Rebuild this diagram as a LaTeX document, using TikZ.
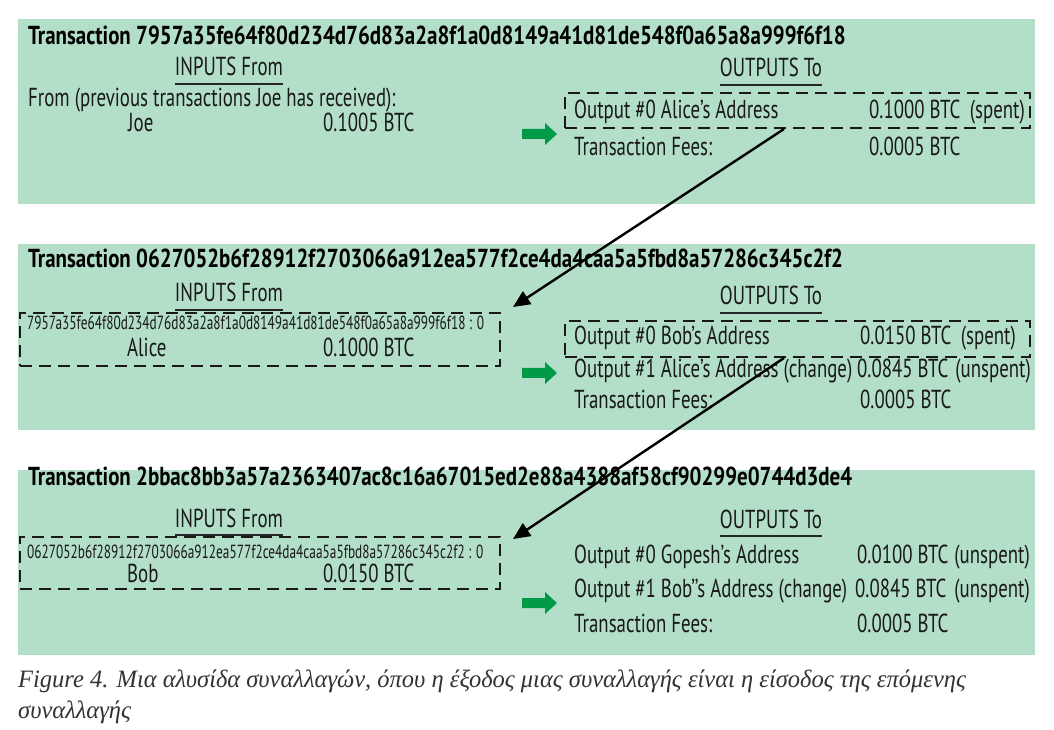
\documentclass[tikz,border=0pt]{standalone}
\usepackage{fontspec}
\setmainfont[FakeStretch=0.725]{PT Sans}
\newfontfamily\titlefont[FakeStretch=0.805]{PT Sans}
\newfontfamily\hashfont[FakeStretch=0.70]{PT Sans}
\newfontfamily\capfont[FakeStretch=0.98]{Liberation Serif}
\usetikzlibrary{arrows.meta,calc}
\definecolor{panelgreen}{RGB}{179,222,200}
\definecolor{arrowgreen}{RGB}{0,154,72}
\definecolor{captext}{RGB}{51,51,51}
\tikzset{
  x=1pt,y=1pt,
  panel/.style={fill=panelgreen,draw=none},
  txt/.style={anchor=base west,inner sep=0pt,font=\fontsize{26}{28}\selectfont,text=black!90},
  stat/.style={txt,anchor=base east},
  ttl/.style={anchor=base west,inner sep=0pt,font=\titlefont\bfseries\fontsize{26}{28}\selectfont},
  head/.style={anchor=base,inner sep=0pt,font=\fontsize{26}{28}\selectfont,text=black!90},
  hash/.style={anchor=base west,inner sep=0pt,font=\hashfont\fontsize{19}{21}\selectfont,text=black!90},
  uline/.style={line width=1.6pt,black!85},
  dbox/.style={draw=black!90,line width=2pt,dash pattern=on 12pt off 7pt},
  link/.style={line width=2.4pt,black,-{Triangle[length=17pt,width=15pt]}},
  captxt/.style={anchor=base west,inner sep=0pt,font=\capfont\itshape\fontsize{25}{28}\selectfont,text=captext},
  garrow/.pic={\fill[arrowgreen] (0,-5)--(23,-5)--(23,-11)--(35,0)--(23,11)--(23,5)--(0,5)--cycle;}
}
\begin{document}
\begin{tikzpicture}
\useasboundingbox (0,0) rectangle (1054,729);
\fill[white] (0,0) rectangle (1054,729);
% panels
\fill[panel] (18,525) rectangle (1035,710);
\fill[panel] (18,299) rectangle (1035,485);
\fill[panel] (18,74) rectangle (1035,259);

% ---------- Panel 1
\node[ttl] (t1) at (28,684) {Transaction 7957a35fe64f80d234d76d83a2a8f1a0d8149a41d81de548f0a65a8a999f6f18};
\node[head] (in1) at (229,653) {INPUTS From};
\draw[uline] ($(in1.base west)+(0,-8)$) -- ($(in1.base east)+(0,-8)$);
\node[txt] (f1) at (28,622) {From (previous transactions Joe has received):};
\node[txt] (j1) at (128,597) {Joe};
\node[txt] (j1v) at (323,597) {0.1005 BTC};
\node[head] (out1) at (771,652) {OUTPUTS To};
\draw[uline] ($(out1.base west)+(0,-8)$) -- ($(out1.base east)+(0,-8)$);
\node[dbox,inner sep=0pt,minimum width=465pt,minimum height=35pt] (ob1) at (797.5,618.5) {};
\node[txt] (o10) at (574,610) {Output \#0 Alice’s Address};
\node[txt] (o10v) at (869,610) {0.1000 BTC};
\node[stat] (o10s) at (1025,610) {(spent)};
\node[txt] (fee1) at (574,573) {Transaction Fees:};
\node[txt] (fee1v) at (869,573) {0.0005 BTC};
\pic at (522,595) {garrow};

% ---------- Panel 2
\node[ttl] (t2) at (28,461) {Transaction 0627052b6f28912f2703066a912ea577f2ce4da4caa5a5fbd8a57286c345c2f2};
\node[head] (in2) at (229,427) {INPUTS From};
\draw[uline] ($(in2.base west)+(0,-8)$) -- ($(in2.base east)+(0,-8)$);
\node[dbox,inner sep=0pt,minimum width=480pt,minimum height=53pt] (ib2) at (260,389.5) {};
\node[hash] (h2) at (27,399) {7957a35fe64f80d234d76d83a2a8f1a0d8149a41d81de548f0a65a8a999f6f18 : 0};
\node[txt] (a2) at (127,372) {Alice};
\node[txt] (a2v) at (323,372) {0.1000 BTC};
\node[head] (out2) at (771,424) {OUTPUTS To};
\draw[uline] ($(out2.base west)+(0,-8)$) -- ($(out2.base east)+(0,-8)$);
\node[dbox,inner sep=0pt,minimum width=465pt,minimum height=36pt] (ob2) at (797.5,390) {};
\node[txt] (o20) at (574,384) {Output \#0 Bob’s Address};
\node[txt] (o20v) at (860,384) {0.0150 BTC};
\node[stat] (o20s) at (1016,384) {(spent)};
\node[txt] (o21) at (574,352) {Output \#1 Alice’s Address (change)};
\node[txt] (o21v) at (857,352) {0.0845 BTC};
\node[stat] (o21s) at (1031,352) {(unspent)};
\node[txt] (fee2) at (574,321) {Transaction Fees:};
\node[txt] (fee2v) at (860,321) {0.0005 BTC};
\pic at (522,356) {garrow};

% ---------- Panel 3
\node[ttl] (t3) at (28,244) {Transaction 2bbac8bb3a57a2363407ac8c16a67015ed2e88a4388af58cf90299e0744d3de4};
\node[head] (in3) at (229,202) {INPUTS From};
\draw[uline] ($(in3.base west)+(0,-8)$) -- ($(in3.base east)+(0,-8)$);
\node[dbox,inner sep=0pt,minimum width=480pt,minimum height=52pt] (ib3) at (260,166) {};
\node[hash] (h3) at (27,171) {0627052b6f28912f2703066a912ea577f2ce4da4caa5a5fbd8a57286c345c2f2 : 0};
\node[txt] (b3) at (127,147) {Bob};
\node[txt] (b3v) at (323,147) {0.0150 BTC};
\node[head] (out3) at (771,201) {OUTPUTS To};
\draw[uline] ($(out3.base west)+(0,-8)$) -- ($(out3.base east)+(0,-8)$);
\node[txt] (o30) at (574,166) {Output \#0 Gopesh’s Address};
\node[txt] (o30v) at (857,166) {0.0100 BTC};
\node[stat] (o30s) at (1030,166) {(unspent)};
\node[txt] (o31) at (574,132) {Output \#1 Bob’’s Address (change)};
\node[txt] (o31v) at (855,132) {0.0845 BTC};
\node[stat] (o31s) at (1030,132) {(unspent)};
\node[txt] (fee3) at (574,97) {Transaction Fees:};
\node[txt] (fee3v) at (857,97) {0.0005 BTC};
\pic at (522,126) {garrow};

% ---------- links
\draw[link] ([xshift=-13.5pt]ob1.south) -- ([shift={(12pt,5pt)}]ib2.north east);
\draw[link] ([xshift=-13.5pt]ob2.south) -- ([shift={(12pt,-3pt)}]ib3.north east);

% ---------- caption
\node[captxt] (c1) at (18,42) {Figure 4. Μια αλυσίδα συναλλαγών, όπου η έξοδος μιας συναλλαγής είναι η είσοδος της επόμενης};
\node[captxt] (c2) at (18,11) {συναλλαγής};
\end{tikzpicture}
\end{document}
